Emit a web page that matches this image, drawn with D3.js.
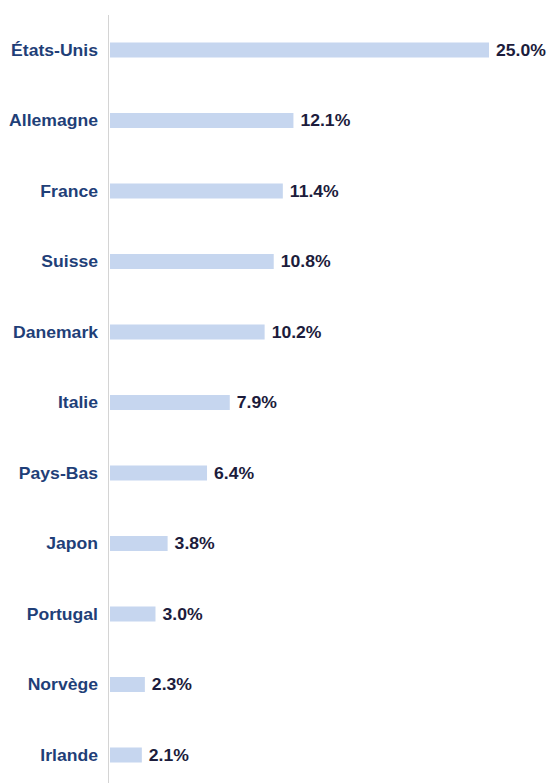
<!DOCTYPE html>
<html><head><meta charset="utf-8">
<script src="https://cdn.jsdelivr.net/npm/d3@7"></script>
<style>body{margin:0;background:#fff}</style>
</head><body>
<svg id="c" width="550" height="783"></svg>
<script>
const categories = ["États-Unis","Allemagne","France","Suisse","Danemark","Italie","Pays-Bas","Japon","Portugal","Norvège","Irlande"];
const values = [25.0,12.1,11.4,10.8,10.2,7.9,6.4,3.8,3.0,2.3,2.1];
const valueLabels = ["25.0%","12.1%","11.4%","10.8%","10.2%","7.9%","6.4%","3.8%","3.0%","2.3%","2.1%"];

const svg = d3.select("#c");
const x0 = 110;
const x = d3.scaleLinear().domain([0,25]).range([x0, 489]);
const y = d3.scaleBand().domain(categories).range([14.75, 790.25]).paddingInner(0).paddingOuter(0);
const barH = 15;
const fs = 16, sx = 1.1;

svg.append("line").attr("x1",x0-1.5).attr("x2",x0-1.5).attr("y1",15).attr("y2",783)
  .attr("stroke","#d4d4d4").attr("stroke-width",1);

const g = svg.append("g");
categories.forEach((c,i)=>{
  const cy = y(c) + y.bandwidth()/2;
  g.append("rect").attr("x",x(0)).attr("y",cy-barH/2).attr("width",x(values[i])-x(0)).attr("height",barH)
    .attr("fill","#c6d6ef");
  g.append("text").attr("transform",`translate(98,${cy}) scale(${sx},1)`).attr("dy","0.35em").attr("text-anchor","end")
    .attr("font-family","Liberation Sans, Arial, sans-serif").attr("font-weight","bold").attr("font-size",fs)
    .attr("fill","#1f3f78").text(c);
  g.append("text").attr("transform",`translate(${x(values[i])+7},${cy}) scale(${sx},1)`).attr("dy","0.35em")
    .attr("font-family","Liberation Sans, Arial, sans-serif").attr("font-weight","bold").attr("font-size",fs)
    .attr("fill","#1c1c3c").text(valueLabels[i]);
});
</script>
</body></html>
